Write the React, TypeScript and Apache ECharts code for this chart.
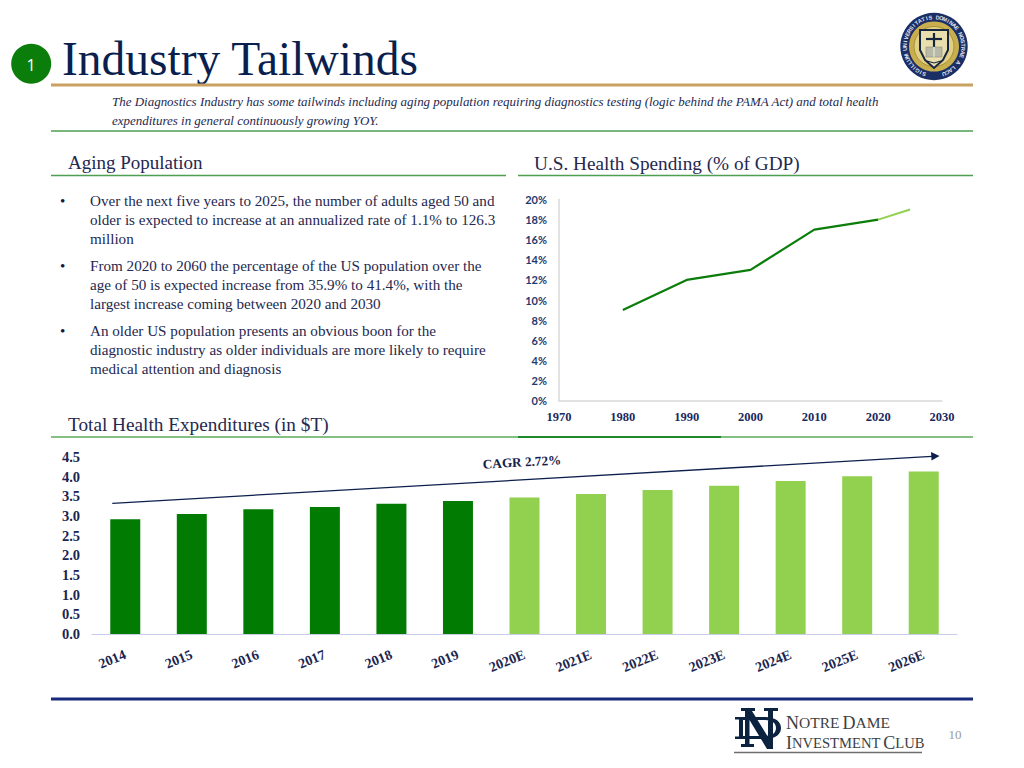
import React, { useEffect, useRef } from "react";
import * as echarts from "echarts";

const spendingActual: [number, number][] = [[1980, 9], [1990, 12], [2000, 13], [2010, 17], [2020, 18]];
const spendingProjected: [number, number][] = [[2020, 18], [2025, 19]];
const expenditureCategories = ["2014", "2015", "2016", "2017", "2018", "2019", "2020E", "2021E", "2022E", "2023E", "2024E", "2025E", "2026E"];
const expenditureActual = [2.92, 3.05, 3.17, 3.23, 3.31, 3.38, null, null, null, null, null, null, null];
const expenditureEstimate = [null, null, null, null, null, null, 3.47, 3.56, 3.66, 3.77, 3.89, 4.01, 4.13];

const bulletLines = [
  "Over the next five years to 2025, the number of adults aged 50 and",
  "older is expected to increase at an annualized rate of 1.1% to 126.3",
  "million",
  "From 2020 to 2060 the percentage of the US population over the",
  "age of 50 is expected increase from 35.9% to 41.4%, with the",
  "largest increase coming between 2020 and 2030",
  "An older US population presents an obvious boon for the",
  "diagnostic industry as older individuals are more likely to require",
  "medical attention and diagnosis",
];
const bulletLineY = [200.5, 219, 238, 265, 284, 303, 330.5, 349, 368];
const bulletMarkY = [200, 265, 330];
const sealMotto = "SIGILLUM UNIVERSITATIS DOMINAE NOSTRAE A LACU";

const SERIF = '"Liberation Serif", serif';
const NAVY = "#0C1F4D";
const INK = "#25284F";

const ND_PATH =
  "M741 708H755V711H752L768 737V711H764V708H778V711H773V749H767L749.5 720V744H754V747H741V744H745V711H741Z" +
  "M735 717H765C776 717 781 722 781 728C781 734 776 739 765 739H735V736.5H739V719.5H735Z" +
  "M743 720V736H765C772 736 776 733 776 728C776 723 772 720 765 720Z";
echarts.graphic.registerShape("ndMonogram", echarts.graphic.extendPath(ND_PATH, {}));

function txt(text: string, x: number, y: number, o: any = {}) {
  const { rotation, ...style } = o;
  return {
    type: "text", x, y, rotation: rotation || 0, silent: true,
    style: { text, fontFamily: SERIF, fill: INK, verticalAlign: "middle", align: "left", ...style },
  };
}
function rule(x1: number, x2: number, y: number, stroke: string, lineWidth: number) {
  return { type: "line", silent: true, shape: { x1, y1: y, x2, y2: y }, style: { stroke, lineWidth } };
}

function sealElements() {
  const cx = 934, cy = 46.5;
  const out: any[] = [
    { type: "circle", shape: { cx, cy, r: 33.7 }, style: { fill: "#1B2F66" } },
    { type: "circle", shape: { cx, cy, r: 25 }, style: { fill: "#C9AE4E" } },
    { type: "circle", shape: { cx, cy, r: 20 }, style: { fill: "#E2CF86", stroke: "#A68F35", lineWidth: 1 } },
    { type: "polygon", shape: { points: [[920, 30], [948, 30], [948, 50], [943, 60], [934, 68], [925, 60], [920, 50]] }, style: { fill: "#E9DFAE", stroke: "#16263F", lineWidth: 2 } },
    { type: "line", shape: { x1: 934, y1: 33, x2: 934, y2: 47 }, style: { stroke: "#16263F", lineWidth: 2.2 } },
    { type: "line", shape: { x1: 926, y1: 39, x2: 942, y2: 39 }, style: { stroke: "#16263F", lineWidth: 2.2 } },
    { type: "rect", shape: { x: 926, y: 47, width: 16, height: 10 }, style: { fill: "#B9B9A8", stroke: "#8E8E7E", lineWidth: 0.6 } },
    { type: "line", shape: { x1: 934, y1: 47, x2: 934, y2: 57 }, style: { stroke: "#EFEFE6", lineWidth: 1 } },
    { type: "polyline", shape: { points: [[927, 61], [934, 63], [941, 61]] }, style: { stroke: "#16263F", lineWidth: 1.2, fill: "none" } },
  ];
  const chars = sealMotto.split("");
  chars.forEach((c, i) => {
    if (c === " ") return;
    const deg = -160 + (320 * i) / (chars.length - 1);
    const a = (deg * Math.PI) / 180;
    out.push(txt(c, cx + 29.3 * Math.sin(a), cy - 29.3 * Math.cos(a), {
      rotation: -a, fontSize: 5.5, fontWeight: "bold", fontFamily: '"Liberation Sans", sans-serif',
      fill: "#E6E8F0", align: "center",
    }));
  });
  return out;
}

const capsRich = (big: number, small: number) => ({
  a: { fontSize: big, lineHeight: 15, fontFamily: SERIF, fill: "#3C4043" },
  b: { fontSize: small, lineHeight: 15, fontFamily: SERIF, fill: "#3C4043" },
});

export default function App() {
  const ref = useRef<HTMLDivElement>(null);
  useEffect(() => {
    const chart = echarts.init(ref.current!, undefined, { renderer: "svg" });
    chart.setOption({
      animation: false,
      backgroundColor: "#FFFFFF",
      grid: [
        { left: 559, top: 199.5, width: 383, height: 201, containLabel: false },
        { left: 92, top: 457, width: 865, height: 177, containLabel: false },
      ],
      xAxis: [
        {
          type: "value", gridIndex: 0, min: 1970, max: 2030, interval: 10,
          axisLine: { show: true, lineStyle: { color: "#D9D9D9", width: 1.5 } },
          axisTick: { show: false }, splitLine: { show: false },
          axisLabel: { fontFamily: SERIF, fontWeight: "bold", color: "#1A2A5E", fontSize: 12.5, margin: 10, formatter: (v: number) => String(v), showMinLabel: true, showMaxLabel: true, hideOverlap: false },
        },
        {
          type: "category", gridIndex: 1, data: expenditureCategories,
          axisLine: { show: true, lineStyle: { color: "#C9CBEA", width: 1 } },
          axisTick: { show: false },
          axisLabel: { interval: 0, rotate: 22, fontFamily: SERIF, fontWeight: "bold", fontSize: 14, color: "#1A2550", margin: 20 },
        },
      ],
      yAxis: [
        {
          type: "value", gridIndex: 0, min: 0, max: 20, interval: 2,
          axisLine: { show: true, lineStyle: { color: "#D9D9D9", width: 1.5 } },
          axisTick: { show: false }, splitLine: { show: false },
          axisLabel: { fontFamily: "Lato, sans-serif", fontWeight: "bold", fontSize: 11, color: "#1F3A6E", margin: 12, formatter: "{value}%" },
        },
        {
          type: "value", gridIndex: 1, min: 0, max: 4.5, interval: 0.5,
          axisLine: { show: false }, axisTick: { show: false }, splitLine: { show: false },
          axisLabel: { fontFamily: SERIF, fontWeight: "bold", fontSize: 14.5, color: "#1A2550", margin: 12, formatter: (v: number) => v.toFixed(1) },
        },
      ],
      series: [
        { type: "line", xAxisIndex: 0, yAxisIndex: 0, data: spendingActual, symbol: "none", lineStyle: { color: "#0B7D0B", width: 2.2 } },
        { type: "line", xAxisIndex: 0, yAxisIndex: 0, data: spendingProjected, symbol: "none", lineStyle: { color: "#92D050", width: 2 } },
        { type: "bar", xAxisIndex: 1, yAxisIndex: 1, data: expenditureActual, barWidth: 30, barGap: "-100%", itemStyle: { color: "#027B02" } },
        { type: "bar", xAxisIndex: 1, yAxisIndex: 1, data: expenditureEstimate, barWidth: 30, barGap: "-100%", itemStyle: { color: "#92D050" } },
      ],
      graphic: { elements: [
        { type: "circle", shape: { cx: 31.2, cy: 63.7, r: 20 }, style: { fill: "#0B7D0B" } },
        txt("1", 31, 65, { fill: "#FFFFFF", fontFamily: '"Open Sans", sans-serif', fontSize: 16, align: "center" }),
        txt("Industry Tailwinds", 62, 59, { fontSize: 47.5, fill: "#0A1F4E" }),
        rule(51, 973, 85, "#C9A262", 3),
        txt("The Diagnostics Industry has some tailwinds including aging population requiring diagnostics testing (logic behind the PAMA Act) and total health", 112, 101, { fontSize: 12.98, fontStyle: "italic" }),
        txt("expenditures in general continuously growing YOY.", 112, 120, { fontSize: 12.98, fontStyle: "italic" }),
        rule(51, 973, 131, "#4E9F50", 1.5),
        txt("Aging Population", 68, 162, { fontSize: 19 }),
        rule(51, 506, 175.5, "#4E9F50", 1.5),
        txt("U.S. Health Spending (% of GDP)", 534, 163, { fontSize: 19.25 }),
        rule(518, 973, 175.5, "#4E9F50", 1.5),
        ...bulletLines.map((l, i) => txt(l, 90, bulletLineY[i], { fontSize: 15.15 })),
        ...bulletMarkY.map((y) => txt("•", 60, y, { fontSize: 15.15, fill: "#15173F" })),
        txt("Total Health Expenditures (in $T)", 68, 424, { fontSize: 19.25 }),
        rule(51, 973, 437, "#5BAA5B", 1.5),
        rule(518, 721, 437, "#1F8A2A", 2),
        { type: "line", silent: true, shape: { x1: 112.3, y1: 503.3, x2: 932, y2: 456.4 }, style: { stroke: NAVY, lineWidth: 1.3 } },
        { type: "polygon", silent: true, shape: { points: [[939.5, 456], [931, 452], [931.5, 460.5]] }, style: { fill: NAVY } },
        txt("CAGR 2.72%", 522, 462, { rotation: 0.056, fontSize: 13.2, fontWeight: "bold", fill: "#14204A", align: "center" }),
        rule(51, 973, 699, "#17297A", 3),
        ...sealElements(),
        { type: "ndMonogram", x: 0, y: 0, silent: true, style: { fill: "#0C2340" } },
        { type: "text", x: 786, y: 722.5, silent: true, style: { text: "{a|N}{b|OTRE} {a|D}{b|AME}", fill: "#3C4043", verticalAlign: "middle", fontFamily: SERIF, rich: capsRich(18, 15.5) } },
        { type: "text", x: 786, y: 743, silent: true, style: { text: "{a|I}{b|NVESTMENT} {a|C}{b|LUB}", fill: "#3C4043", verticalAlign: "middle", fontFamily: SERIF, rich: capsRich(18, 14.6) } },
        rule(734, 922, 752.5, "#6E6E6E", 1.5),
        txt("10", 955, 734, { fontSize: 13, fill: "#9A9A9A", align: "center" }),
      ] },
    });
    return () => chart.dispose();
  }, []);
  return <div ref={ref} style={{ position: "absolute", left: 0, top: 0, width: 1024, height: 768 }} />;
}
